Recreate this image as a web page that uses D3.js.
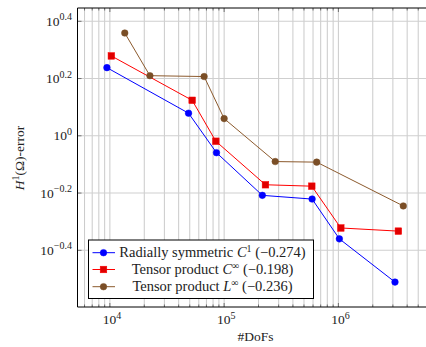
<!DOCTYPE html>
<html>
<head>
<meta charset="utf-8">
<script src="https://cdn.jsdelivr.net/npm/d3@7"></script>
<style>
html,body{margin:0;padding:0;background:#fff;}
</style>
</head>
<body>
<svg id="chart" width="426" height="347"></svg>
<script>
// ---- data ----
const radialDofs   = [9420, 48800, 85700, 216000, 589000, 1020000, 3130000];
const radialErr    = [0.238, 0.079, -0.059, -0.208, -0.221, -0.360, -0.511].map(v => Math.pow(10, v));
const tensorCDofs  = [10300, 52500, 84600, 230000, 585000, 1050000, 3350000];
const tensorCErr   = [0.279, 0.124, -0.019, -0.171, -0.176, -0.322, -0.333].map(v => Math.pow(10, v));
const tensorLDofs  = [13500, 22400, 66800, 100000, 280000, 646000, 3700000];
const tensorLErr   = [0.359, 0.210, 0.207, 0.060, -0.090, -0.092, -0.245].map(v => Math.pow(10, v));
const seriesNames  = ["Radially symmetric", "Tensor product", "Tensor product"];
const seriesSpaces = ["C", "C", "L"];
const seriesSups   = ["1", "\u221E", "\u221E"];
const seriesRates  = ["(\u22120.274)", "(\u22120.198)", "(\u22120.236)"];
const yTickExps    = ["0.4", "0.2", "0", "\u22120.2", "\u22120.4"];
const yTickVals    = [0.4, 0.2, 0, -0.2, -0.4];
const xTickExps    = ["4", "5", "6"];
const xTickVals    = [1e4, 1e5, 1e6];

const series = [
  {x: radialDofs, y: radialErr, color: "#0000ff", fill: "#0000ff", mark: "circle"},
  {x: tensorCDofs, y: tensorCErr, color: "#ff0000", fill: "#e00000", mark: "square"},
  {x: tensorLDofs, y: tensorLErr, color: "#8c5a2d", fill: "#7a4e26", mark: "circle"}
];

const FF = "'Liberation Serif'";
const svg = d3.select("#chart");
const L = 77.5, T = 8, B = 307, R = 434;
const x = d3.scaleLog().domain([Math.pow(10, 3.7165), Math.pow(10, 6.837)]).range([L, R]);
const y = d3.scaleLog().domain([Math.pow(10, -0.598), Math.pow(10, 0.4464)]).range([B, T]);

// grid
const xs = [];
for (let e = 3; e <= 6; e++) for (let k = 1; k <= 9; k++) {
  const v = k * Math.pow(10, e);
  if (v > x.domain()[0] && v < x.domain()[1]) xs.push({v, major: k === 1});
}
const g = svg.append("g");
g.selectAll("line.vg").data(xs).join("line")
  .attr("x1", d => x(d.v)).attr("x2", d => x(d.v)).attr("y1", T).attr("y2", B)
  .attr("stroke", "#c4c4c4").attr("stroke-width", 0.9);
g.selectAll("line.hg").data(yTickVals).join("line")
  .attr("x1", L).attr("x2", R).attr("y1", d => y(Math.pow(10, d))).attr("y2", d => y(Math.pow(10, d)))
  .attr("stroke", "#cfcfcf").attr("stroke-width", 1.1);

// tick marks on borders
const tk = svg.append("g").attr("stroke", "#555").attr("stroke-width", 0.8);
xs.forEach(d => {
  const len = d.major ? 4 : 2.5;
  tk.append("line").attr("x1", x(d.v)).attr("x2", x(d.v)).attr("y1", B).attr("y2", B - len);
  tk.append("line").attr("x1", x(d.v)).attr("x2", x(d.v)).attr("y1", T).attr("y2", T + len);
});
yTickVals.forEach(d => {
  tk.append("line").attr("x1", L).attr("x2", L + 4).attr("y1", y(Math.pow(10, d))).attr("y2", y(Math.pow(10, d)));
});

// borders
svg.append("line").attr("x1", L).attr("x2", R).attr("y1", T).attr("y2", T).attr("stroke", "#000").attr("stroke-width", 1);
svg.append("line").attr("x1", L).attr("x2", R).attr("y1", B).attr("y2", B).attr("stroke", "#000").attr("stroke-width", 1);
svg.append("line").attr("x1", L).attr("x2", L).attr("y1", T).attr("y2", B).attr("stroke", "#000").attr("stroke-width", 1);

// y tick labels
const fs = 13.5;
const sfs = 10;
yTickVals.forEach((d, i) => {
  const t = svg.append("text").attr("x", 72).attr("y", y(Math.pow(10, d)) + 4.5).attr("text-anchor", "end")
    .attr("font-family", FF).attr("font-size", fs).attr("fill", "#222");
  t.append("tspan").text("10");
  t.append("tspan").attr("dy", -5.5).attr("font-size", sfs).text(yTickExps[i]);
});
// x tick labels
xTickVals.forEach((d, i) => {
  const t = svg.append("text").attr("x", x(d) + 2).attr("y", 324).attr("text-anchor", "middle")
    .attr("font-family", FF).attr("font-size", fs).attr("fill", "#222");
  t.append("tspan").text("10");
  t.append("tspan").attr("dy", -5.5).attr("font-size", sfs).text(xTickExps[i]);
});

// axis labels
svg.append("text").attr("x", 255.5).attr("y", 341).attr("text-anchor", "middle").attr("font-family", FF)
  .attr("font-size", fs).attr("fill", "#222").text("#DoFs");
const yl = svg.append("text").attr("transform", "translate(24,158) rotate(-90)").attr("text-anchor", "middle")
  .attr("font-family", FF).attr("font-size", fs).attr("fill", "#222");
yl.append("tspan").attr("font-style", "italic").text("H");
yl.append("tspan").attr("dy", -5.5).attr("font-size", sfs).text("1");
yl.append("tspan").attr("dy", 5.5).text("(\u03A9)-error");

// series
const line = d3.line().x(d => x(d[0])).y(d => y(d[1]));
function drawMark(sel, s, cx, cy) {
  if (s.mark === "circle") {
    sel.append("circle").attr("cx", cx).attr("cy", cy).attr("r", 3.3).attr("fill", s.fill).attr("stroke", s.fill).attr("stroke-width", 0.5);
  } else {
    sel.append("rect").attr("x", cx - 3.3).attr("y", cy - 3.3).attr("width", 6.6).attr("height", 6.6).attr("fill", s.fill).attr("stroke", s.color).attr("stroke-width", 0.5);
  }
}
series.forEach(s => {
  const pts = s.x.map((v, i) => [v, s.y[i]]);
  svg.append("path").attr("d", line(pts)).attr("fill", "none").attr("stroke", s.color).attr("stroke-width", 1);
  const mg = svg.append("g");
  pts.forEach(p => drawMark(mg, s, x(p[0]), y(p[1])));
});

// legend
const lg = svg.append("g");
lg.append("rect").attr("x", 88.5).attr("y", 240).attr("width", 225).attr("height", 58.5)
  .attr("fill", "#fff").attr("stroke", "#000").attr("stroke-width", 1);
const rowsY = [252.7, 269.5, 286.7];
series.forEach((s, i) => {
  lg.append("line").attr("x1", 92.5).attr("x2", 115).attr("y1", rowsY[i]).attr("y2", rowsY[i]).attr("stroke", s.color).attr("stroke-width", 1);
  drawMark(lg, s, 103.5, rowsY[i]);
  const t = lg.append("text").attr("x", 212.5).attr("y", rowsY[i] + 4.5).attr("text-anchor", "middle")
    .attr("font-family", FF).attr("font-size", 14.5).attr("fill", "#222");
  t.append("tspan").text(seriesNames[i] + " ");
  t.append("tspan").attr("font-style", "italic").text(seriesSpaces[i]);
  t.append("tspan").attr("dy", -5.5).attr("font-size", sfs).text(seriesSups[i]);
  t.append("tspan").attr("dy", 5.5).text(" " + seriesRates[i]);
});
</script>
</body>
</html>
